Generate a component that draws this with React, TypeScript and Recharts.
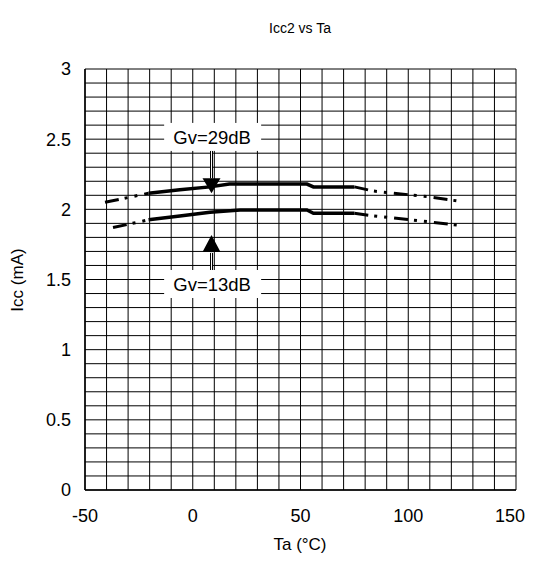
import { LineChart, Line, XAxis, YAxis, ReferenceLine, ReferenceDot } from 'recharts';

// Gv=29dB curve (solid middle, dashed extrapolation at both ends)
const hiSolidTa = [-20.5, -6, 8, 17, 53, 56, 75];
const hiSolidIcc = [2.115, 2.14, 2.16, 2.18, 2.18, 2.16, 2.16];
const hiLeftTa = [-40.7, -20.5];
const hiLeftIcc = [2.05, 2.115];
const hiRightTa = [75, 84, 109, 125];
const hiRightIcc = [2.16, 2.13, 2.09, 2.055];

// Gv=13dB curve
const loSolidTa = [-20.5, -6, 8, 22, 53, 56, 75];
const loSolidIcc = [1.925, 1.953, 1.98, 1.995, 1.995, 1.972, 1.972];
const loLeftTa = [-37, -20.5];
const loLeftIcc = [1.87, 1.925];
const loRightTa = [75, 84, 109, 125];
const loRightIcc = [1.972, 1.953, 1.912, 1.884];

const xTicks = [-50, 0, 50, 100, 150];
const yTicks = [0, 0.5, 1, 1.5, 2, 2.5, 3];
const gridX = Array.from({ length: 21 }, (_, i) => -50 + i * 10);
const gridY = Array.from({ length: 31 }, (_, i) => Math.round(i * 10) / 100);

// annotations: arrow x position, label centres, arrow tips
const arrowTa = 8.7;
const label29 = { ta: 9, icc: 2.516, text: 'Gv=29dB' };
const label13 = { ta: 9, icc: 1.468, text: 'Gv=13dB' };
const downTipIcc = 2.115;
const upTipIcc = 1.817;

const pts = (xs: number[], ys: number[]) => xs.map((x, i) => ({ ta: x, icc: ys[i] }));

const FONT = '"Liberation Sans", Arial, sans-serif';
const DASH = '14 6 3 7 3 7';

const LabelBox = (props: any) => {
  const { cx, cy, text } = props;
  return (
    <g>
      <rect x={cx - 48} y={cy - 14} width={97} height={28} fill="#fff" />
      <text x={cx} y={cy + 7} textAnchor="middle" fontSize={18.5} fontFamily={FONT} fill="#000">
        {text}
      </text>
    </g>
  );
};

const DownHead = (props: any) => {
  const { cx, cy } = props;
  return <polygon points={`${cx - 9},${cy - 15} ${cx + 9},${cy - 15} ${cx},${cy}`} fill="#000" />;
};

const UpHead = (props: any) => {
  const { cx, cy } = props;
  return <polygon points={`${cx - 9},${cy + 17} ${cx + 9},${cy + 17} ${cx},${cy}`} fill="#000" />;
};

// keep the last x tick label inside the visible page
const XTick = (props: any) => {
  const { x, y, payload } = props;
  return (
    <text x={Math.min(x, 502)} y={y} dy="0.71em" textAnchor="middle" fontSize={18} fontFamily={FONT} fill="#000">
      {payload.value}
    </text>
  );
};

export default function App() {
  return (
    <LineChart
      width={526}
      height={555}
      margin={{ top: 61, right: 18, left: 0, bottom: 0 }}
      style={{ fontFamily: FONT }}
    >
      <XAxis
        dataKey="ta"
        type="number"
        domain={[-50, 150]}
        ticks={xTicks}
        allowDataOverflow
        height={73}
        tickLine={false}
        tickSize={6}
        tickMargin={13}
        axisLine={{ stroke: '#000', strokeWidth: 1.5 }}
        tick={XTick}
      />
      <YAxis
        dataKey="icc"
        type="number"
        domain={[0, 3]}
        ticks={yTicks}
        allowDataOverflow
        width={77}
        tickLine={false}
        tickSize={6}
        tickMargin={8}
        axisLine={{ stroke: '#000', strokeWidth: 1.5 }}
        tick={{ fill: '#000', fontSize: 18 }}
      />
      {gridX.map((v) => (
        <ReferenceLine key={`gx${v}`} x={v} stroke="#000" strokeWidth={1} />
      ))}
      {gridY.map((v) => (
        <ReferenceLine key={`gy${v}`} y={v} stroke="#000" strokeWidth={1} />
      ))}

      <Line data={pts(hiSolidTa, hiSolidIcc)} dataKey="icc" stroke="#000" strokeWidth={3.5} dot={false} isAnimationActive={false} />
      <Line data={pts(hiLeftTa, hiLeftIcc)} dataKey="icc" stroke="#000" strokeWidth={3} strokeDasharray={DASH} dot={false} isAnimationActive={false} />
      <Line data={pts(hiRightTa, hiRightIcc)} dataKey="icc" stroke="#000" strokeWidth={3} strokeDasharray={DASH} dot={false} isAnimationActive={false} />
      <Line data={pts(loSolidTa, loSolidIcc)} dataKey="icc" stroke="#000" strokeWidth={3.5} dot={false} isAnimationActive={false} />
      <Line data={pts(loLeftTa, loLeftIcc)} dataKey="icc" stroke="#000" strokeWidth={3} strokeDasharray={DASH} dot={false} isAnimationActive={false} />
      <Line data={pts(loRightTa, loRightIcc)} dataKey="icc" stroke="#000" strokeWidth={3} strokeDasharray={DASH} dot={false} isAnimationActive={false} />

      <ReferenceLine segment={[{ x: arrowTa, y: 2.42 }, { x: arrowTa, y: 2.22 }]} stroke="#000" strokeWidth={3} />
      <ReferenceLine segment={[{ x: arrowTa, y: 2.42 }, { x: arrowTa, y: 2.22 }]} stroke="#fff" strokeWidth={1} />
      <ReferenceLine segment={[{ x: arrowTa, y: 1.69 }, { x: arrowTa, y: 1.56 }]} stroke="#000" strokeWidth={3} />
      <ReferenceLine segment={[{ x: arrowTa, y: 1.69 }, { x: arrowTa, y: 1.56 }]} stroke="#fff" strokeWidth={1} />
      <ReferenceDot x={arrowTa} y={downTipIcc} shape={DownHead} />
      <ReferenceDot x={arrowTa} y={upTipIcc} shape={UpHead} />
      <ReferenceDot x={label29.ta} y={label29.icc} shape={(p: any) => <LabelBox {...p} text={label29.text} />} />
      <ReferenceDot x={label13.ta} y={label13.icc} shape={(p: any) => <LabelBox {...p} text={label13.text} />} />

      <text x={292} y={25} textAnchor="middle" fontSize={14} fontFamily={FONT} fill="#000">
        Icc2 vs Ta
      </text>
      <text
        x={15}
        y={272}
        textAnchor="middle"
        fontSize={17}
        fontFamily={FONT}
        fill="#000"
        transform="rotate(-90 15 272)"
      >
        Icc (mA)
      </text>
      <text x={292} y={542} textAnchor="middle" fontSize={17} fontFamily={FONT} fill="#000">
        Ta (°C)
      </text>
    </LineChart>
  );
}
